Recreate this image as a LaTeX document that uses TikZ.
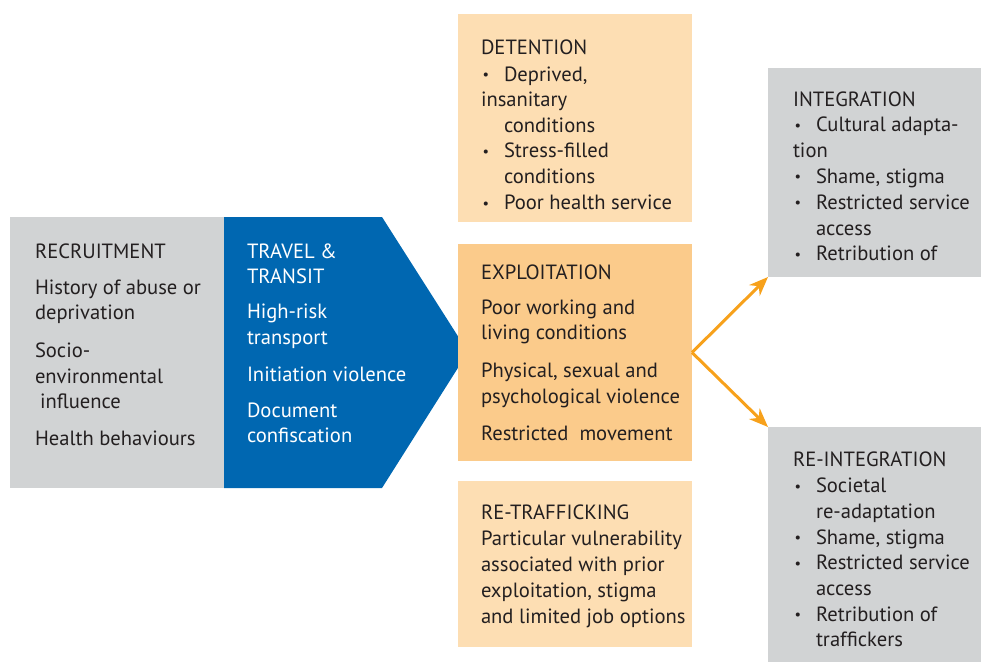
\documentclass[tikz,border=0pt]{standalone}
\usepackage{fontspec}
\setmainfont{PT Sans}
\usetikzlibrary{arrows.meta}
\definecolor{boxgray}{HTML}{D1D3D4}
\definecolor{tblue}{HTML}{0067B1}
\definecolor{peachlt}{HTML}{FDDEB3}
\definecolor{peach}{HTML}{FBCB8B}
\definecolor{arroworange}{HTML}{F7A11B}
\definecolor{txt}{HTML}{231F20}
\newcommand{\bl}{\makebox[23pt][l]{\hspace{1.5pt}\raisebox{1.5pt}{\scalebox{0.7}{•}}}}
\newcommand{\ind}{\hspace*{23pt}}
\newcommand{\fl}{\rule{0pt}{18pt}}
\begin{document}
\begin{tikzpicture}[x=1pt,y=-1pt,
  panel/.style={draw=none,inner sep=0pt,outer sep=0pt,anchor=north west},
  body/.style={anchor=north west,inner sep=0pt,outer sep=0pt,align=left,text=txt,
    font=\fontsize{20.6}{25.5}\selectfont},
  link/.style={draw=arroworange,line width=3pt,-{Stealth[length=19pt,width=15pt,inset=6pt]}}]
\useasboundingbox (0,0) rectangle (981,662);
% panels
\node[panel,fill=boxgray,minimum width=214pt,minimum height=271pt] (recr) at (10,217) {};
\coordinate (tA) at (224,217);
\coordinate (tB) at (382,217);
\coordinate (tC) at (468,352);
\coordinate (tD) at (382,488);
\coordinate (tE) at (224,488);
\fill[tblue] (tA) -- (tB) -- (tC) -- (tD) -- (tE) -- cycle;
\node[panel,fill=peachlt,minimum width=234pt,minimum height=208pt] (det) at (458,14) {};
\node[panel,fill=peach,minimum width=234pt,minimum height=217pt] (expl) at (458,244) {};
\node[panel,fill=peachlt,minimum width=234pt,minimum height=166pt] (retr) at (458,481) {};
\node[panel,fill=boxgray,minimum width=213pt,minimum height=209pt] (integ) at (768,68) {};
\node[panel,fill=boxgray,minimum width=213pt,minimum height=235pt] (reinteg) at (768,427) {};
% texts
\node[body] (recrtxt) at (35,240) {\fl RECRUITMENT\\[10.5pt]
  History of abuse or\\ deprivation\\[12.5pt]
  Socio-\\ environmental\\ \hspace*{5pt}influence\\[11.5pt]
  Health behaviours};
\node[body,text=white] (traveltxt) at (247,240) {\fl TRAVEL \&\\ TRANSIT\\[9.5pt]
  High-risk\\ transport\\[11.5pt]
  Initiation violence\\[10.5pt]
  Document\\ confiscation};
\node[body] (dettxt) at (481,36) {\fl DETENTION\\[1.5pt]
  \bl Deprived,\\ insanitary\\ \ind conditions\\
  \bl Stress-filled\\ \ind conditions\\[1pt]
  \bl Poor health service};
\node[body] (expltxt) at (481,261) {\fl EXPLOITATION\\[9.5pt]
  Poor working and\\ living conditions\\[12.5pt]
  Physical, sexual and\\ psychological violence\\[11.5pt]
  Restricted\ \ movement};
\node[body,font=\fontsize{20.6}{25.8}\selectfont] (retrtxt) at (481,501) {\fl RE-TRAFFICKING\\[1pt]
  Particular vulnerability\\ associated with prior\\
  exploitation, stigma\\ and limited job options};
\node[body,font=\fontsize{20.6}{25.8}\selectfont] (integtxt) at (793,88) {\fl INTEGRATION\\
  \bl Cultural adapta-\\ tion\\
  \bl Shame, stigma\\
  \bl Restricted service\\ \ind access\\
  \bl Retribution of};
\node[body,font=\fontsize{20.6}{25.7}\selectfont] (reintegtxt) at (793,448) {\fl RE-INTEGRATION\\[1pt]
  \bl Societal\\ \ind re-adaptation\\
  \bl Shame, stigma\\
  \bl Restricted service\\ \ind access\\
  \bl Retribution of\\ \ind traffickers};
% connectors
\draw[link] (expl.east) -- (integ.south west);
\draw[link] (expl.east) -- (reinteg.north west);
\end{tikzpicture}
\end{document}
